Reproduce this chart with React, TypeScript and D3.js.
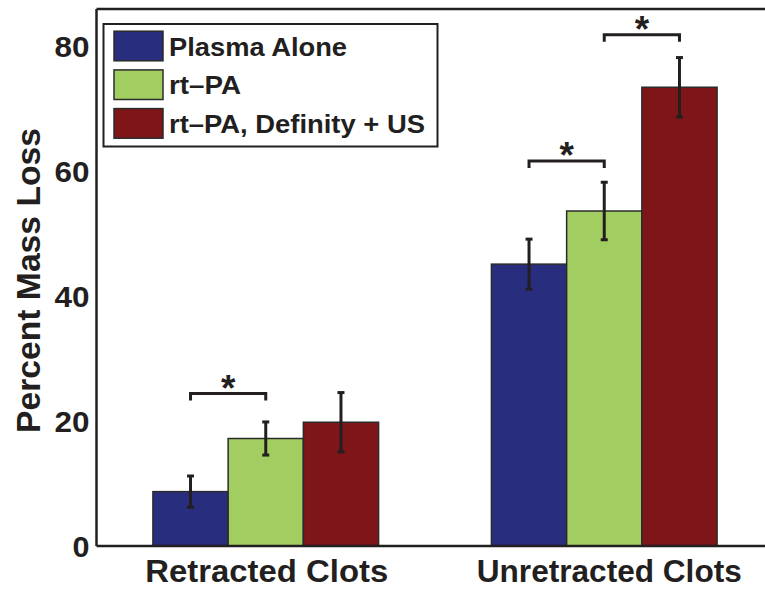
import React from "react";
import * as d3 from "d3";

const categories = ["Retracted Clots", "Unretracted Clots"];
const seriesNames = ["Plasma Alone", "rt\u2013PA", "rt\u2013PA, Definity + US"];
const seriesColors = ["#292D7D", "#A2CE61", "#7E1518"];
const plasmaAlone = [8.7, 45.1];
const plasmaAloneErr = [2.5, 4.0];
const rtPA = [17.2, 53.6];
const rtPAErr = [2.65, 4.6];
const rtPADefinity = [19.8, 73.4];
const rtPADefinityErr = [4.75, 4.75];
const yTicks = [0, 20, 40, 60, 80];
// significance brackets: category index, from series, to series, bracket height (value)
const sigCategory = [0, 1, 1];
const sigFrom = [0, 0, 1];
const sigTo = [1, 1, 2];
const sigLevel = [24.4, 61.6, 81.8];

const W = 765;
const H = 593;
const INK = "#231F20";
const FONT = "'Liberation Sans', Arial, Helvetica, sans-serif";

export default function App() {
  const values = [plasmaAlone, rtPA, rtPADefinity];
  const errs = [plasmaAloneErr, rtPAErr, rtPADefinityErr];

  const left = 96.5;
  const top = 9;
  const bottom = 546;
  const y = d3.scaleLinear().domain([0, 86]).range([bottom, bottom - 86 * 6.25]);
  const x0 = d3.scaleBand<string>().domain(categories).range([left, left + 2 * 338.5]).padding(0);
  const groupW = x0.bandwidth() * (2 / 3);
  const x1 = d3.scaleBand<number>().domain([0, 1, 2]).range([0, groupW]).padding(0);
  const barX = (ci: number, si: number) =>
    (x0(categories[ci]) as number) + (x0.bandwidth() - groupW) / 2 + (x1(si) as number);
  const barCx = (ci: number, si: number) => barX(ci, si) + x1.bandwidth() / 2;

  const xLabelLens = [243, 265];

  return (
    <svg width={W} height={H} style={{ position: "absolute", left: 0, top: 0, background: "#fff" }}
      fontFamily={FONT} fontWeight="bold">
      <rect x={0} y={0} width={W} height={H} fill="#fff" />
      {/* bars */}
      {values.map((ser, si) =>
        ser.map((v, ci) => (
          <rect key={`b${si}-${ci}`} x={barX(ci, si)} y={y(v)} width={x1.bandwidth()}
            height={y(0) - y(v)} fill={seriesColors[si]} stroke="#2b2b2b" strokeWidth={1.5} />
        ))
      )}
      {/* error bars */}
      {values.map((ser, si) =>
        ser.map((v, ci) => {
          const cx = barCx(ci, si);
          const e = errs[si][ci];
          return (
            <g key={`e${si}-${ci}`} stroke={INK} strokeWidth={3}>
              <line x1={cx} x2={cx} y1={y(v + e)} y2={y(v - e)} />
              <line x1={cx - 3.5} x2={cx + 3.5} y1={y(v + e)} y2={y(v + e)} />
              <line x1={cx - 3.5} x2={cx + 3.5} y1={y(v - e)} y2={y(v - e)} />
            </g>
          );
        })
      )}
      {/* significance brackets */}
      {sigLevel.map((lv, i) => {
        const xa = barCx(sigCategory[i], sigFrom[i]);
        const xb = barCx(sigCategory[i], sigTo[i]);
        const yy = y(lv);
        return (
          <g key={`s${i}`}>
            <path d={`M${xa},${yy + 7}V${yy}H${xb}V${yy + 7}`} fill="none" stroke={INK} strokeWidth={3} />
            <text x={(xa + xb) / 2} y={yy + 7} textAnchor="middle" fontSize={37} fill={INK}>*</text>
          </g>
        );
      })}
      {/* axes */}
      <line x1={left} x2={W} y1={top} y2={top} stroke={INK} strokeWidth={2.5} />
      <line x1={left} x2={W} y1={bottom} y2={bottom} stroke={INK} strokeWidth={2.5} />
      <line x1={left} x2={left} y1={top} y2={bottom} stroke={INK} strokeWidth={2.5} />
      {yTicks.map((t) => (
        <text key={`t${t}`} x={89.5} y={y(t) + 10.5} textAnchor="end" fontSize={30} fill={INK}
          textLength={t === 0 ? 17 : 35} lengthAdjust="spacingAndGlyphs">{t}</text>
      ))}
      {categories.map((c, ci) => (
        <text key={`c${ci}`} x={(x0(c) as number) + x0.bandwidth() / 2 + (ci === 1 ? 5 : 1)} y={581.5}
          textAnchor="middle" fontSize={32} fill={INK} textLength={xLabelLens[ci]}
          lengthAdjust="spacingAndGlyphs">{c}</text>
      ))}
      <text transform={`translate(40,${(128 + 433) / 2}) rotate(-90)`} textAnchor="middle" fontSize={33}
        fill={INK} textLength={305} lengthAdjust="spacingAndGlyphs">Percent Mass Loss</text>
      {/* legend */}
      <rect x={103.5} y={24} width={334} height={122.5} fill="#fff" stroke={INK} strokeWidth={2} />
      {seriesNames.map((n, i) => {
        const cy = 46 + i * 38.7;
        const lens = [178, 72, 256];
        return (
          <g key={`l${i}`}>
            <rect x={114} y={cy - 14.8} width={49} height={29.6} fill={seriesColors[i]} stroke="#2b2b2b" strokeWidth={1.5} />
            <text x={169} y={cy + 9.5} fontSize={26} fill={INK} textLength={lens[i]}
              lengthAdjust="spacingAndGlyphs">{n}</text>
          </g>
        );
      })}
    </svg>
  );
}
